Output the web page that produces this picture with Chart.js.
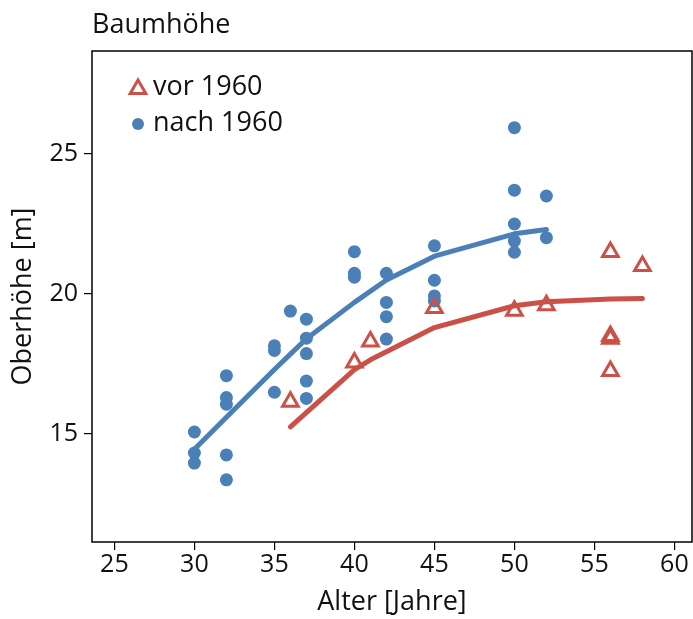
<!DOCTYPE html>
<html>
<head>
<meta charset="utf-8">
<script src="https://cdn.jsdelivr.net/npm/chart.js@4/dist/chart.umd.min.js"></script>
<style>
    html, body { margin: 0; padding: 0; background: #fff; }
    canvas { display: block; }
</style>
</head>
<body>
<canvas id="chart" width="693" height="619"></canvas>
<script>
// Streudiagramm: Oberhöhe über Alter, vor und nach 1960
var chartTitle = 'Baumhöhe';
var xTitle = 'Alter [Jahre]';
var yTitle = 'Oberhöhe [m]';
var xTicks = [25, 30, 35, 40, 45, 50, 55, 60];
var yTicks = [15, 20, 25];

var vorLabel = 'vor 1960';
var vorAlter = [36, 40, 41, 45, 50, 52, 56, 56, 56, 56, 58];
var vorHoehe = [16.15, 17.55, 18.3, 19.5, 19.4, 19.6, 21.5, 18.5, 18.4, 17.25, 21.0];
var vorKurveAlter = [36, 40, 41, 45, 50, 52, 56, 58];
var vorKurve = [15.25, 17.3, 17.65, 18.8, 19.58, 19.72, 19.82, 19.84];

var nachLabel = 'nach 1960';
var nachAlter = [30, 30, 30, 32, 32, 32, 32, 32, 35, 35, 35, 36, 37, 37, 37, 37, 37,
    40, 40, 40, 42, 42, 42, 42, 45, 45, 45, 45, 50, 50, 50, 50, 50, 52, 52];
var nachHoehe = [15.07, 14.32, 13.96, 17.08, 16.3, 16.06, 14.25, 13.36, 18.15, 17.98, 16.49, 19.39,
    19.1, 18.42, 17.87, 16.89, 16.27, 21.51, 20.74, 20.6, 20.74, 19.7, 19.19, 18.39,
    21.72, 20.49, 19.93, 19.75, 25.94, 23.71, 22.5, 21.89, 21.49, 23.5, 22.01];
var nachKurveAlter = [30, 32, 35, 36, 37, 40, 42, 45, 50, 52];
var nachKurve = [14.45, 15.6, 17.3, 17.85, 18.4, 19.7, 20.5, 21.35, 22.15, 22.3];

var RED = '#cb5047';
var BLUE = '#4a80b7';
var FONT = '"Open Sans", "Noto Sans", sans-serif';

function pairs(xs, ys) {
    return xs.map(function (x, i) { return { x: x, y: ys[i] }; });
}

var frame = {
    id: 'frame',
    afterDraw: function (chart) {
        var ctx = chart.ctx;
        var a = chart.chartArea;
        ctx.save();
        ctx.strokeStyle = '#000';
        ctx.lineWidth = 1.5;
        ctx.strokeRect(a.left, a.top, a.right - a.left, a.bottom - a.top);

        ctx.fillStyle = '#111';
        ctx.font = '27px ' + FONT;
        ctx.textAlign = 'left';
        ctx.textBaseline = 'middle';
        ctx.fillText(chartTitle, 92, 25);

        // legend
        ctx.lineWidth = 3;
        ctx.strokeStyle = RED;
        var r = 9, cx = 138, cy = 89;
        ctx.beginPath();
        for (var k = 0; k < 3; k++) {
            var ang = k * 2 * Math.PI / 3;
            var px = cx + Math.sin(ang) * r, py = cy - Math.cos(ang) * r;
            if (k === 0) ctx.moveTo(px, py); else ctx.lineTo(px, py);
        }
        ctx.closePath();
        ctx.stroke();
        ctx.fillStyle = BLUE;
        ctx.beginPath();
        ctx.arc(138, 124, 6, 0, Math.PI * 2);
        ctx.fill();

        ctx.fillStyle = '#111';
        ctx.fillText(vorLabel, 153, 87);
        ctx.fillText(nachLabel, 153, 123);
        ctx.restore();
    }
};

new Chart(document.getElementById('chart'), {
    type: 'scatter',
    data: {
        datasets: [
            {
                type: 'line',
                data: pairs(vorKurveAlter, vorKurve),
                borderColor: RED,
                borderWidth: 5,
                borderCapStyle: 'round',
                borderJoinStyle: 'round',
                pointRadius: 0,
                fill: false,
                tension: 0,
                order: 0
            },
            {
                type: 'line',
                data: pairs(nachKurveAlter, nachKurve),
                borderColor: BLUE,
                borderWidth: 5,
                borderCapStyle: 'round',
                borderJoinStyle: 'round',
                pointRadius: 0,
                fill: false,
                tension: 0,
                order: 0
            },
            {
                label: vorLabel,
                data: pairs(vorAlter, vorHoehe),
                pointStyle: 'triangle',
                pointRadius: 9,
                borderWidth: 3,
                borderColor: RED,
                backgroundColor: 'rgba(255,255,255,0)',
                order: 1
            },
            {
                label: nachLabel,
                data: pairs(nachAlter, nachHoehe),
                pointStyle: 'circle',
                pointRadius: 6.5,
                borderWidth: 0,
                backgroundColor: BLUE,
                order: 1
            }
        ]
    },
    options: {
        responsive: false,
        animation: false,
        layout: { autoPadding: false, padding: { top: 51, right: 1, left: 0, bottom: 0 } },
        plugins: {
            legend: { display: false },
            tooltip: { enabled: false }
        },
        scales: {
            x: {
                type: 'linear',
                min: 23.6,
                max: 61.1,
                afterBuildTicks: function (s) { s.ticks = xTicks.map(function (v) { return { value: v }; }); },
                afterFit: function (s) { s.height = 77; s.paddingLeft = 0; s.paddingRight = 0; },
                grid: { drawOnChartArea: false, drawTicks: true, tickLength: 8, color: '#000', lineWidth: 1.2 },
                border: { display: false },
                ticks: { font: { family: FONT, size: 25 }, color: '#111', padding: 0, maxRotation: 0 },
                title: { display: true, text: xTitle, font: { family: FONT, size: 27 }, color: '#111', padding: { top: 0, bottom: 0 } }
            },
            y: {
                type: 'linear',
                min: 11.14,
                max: 28.68,
                afterBuildTicks: function (s) { s.ticks = yTicks.map(function (v) { return { value: v }; }); },
                afterFit: function (s) { s.width = 92; s.paddingTop = 0; s.paddingBottom = 0; },
                grid: { drawOnChartArea: false, drawTicks: true, tickLength: 8, color: '#000', lineWidth: 1.2 },
                border: { display: false },
                ticks: { font: { family: FONT, size: 25 }, color: '#111', padding: 6 },
                title: { display: true, text: yTitle, font: { family: FONT, size: 27 }, color: '#111', padding: { top: 7, bottom: 0 } }
            }
        }
    },
    plugins: [frame]
});
</script>
</body>
</html>
